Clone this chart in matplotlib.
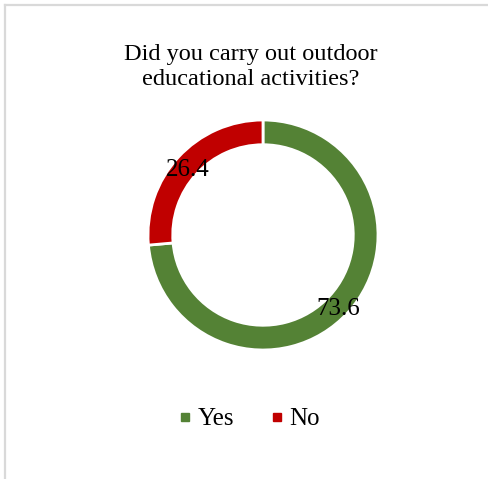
import matplotlib
matplotlib.use("Agg")
import matplotlib.pyplot as plt
from matplotlib.lines import Line2D
import matplotlib.transforms as mtransforms
import numpy as np

categories = ["Yes", "No"]
values = [73.6, 26.4]
colors = ["#548235", "#C00000"]
title = "Did you carry out outdoor\neducational activities?"

W, H = 488, 479
plt.rcParams['font.family'] = ['Liberation Serif', 'DejaVu Serif']
fig = plt.figure(figsize=(W / 100, H / 100), dpi=100)
fig.patch.set_facecolor("white")

# border (left and top visible)
bc = "#d9d9d9"
fig.add_artist(Line2D([4.5 / W, 4.5 / W], [0, 1 - 5 / H], color=bc, lw=1.6, transform=fig.transFigure))
fig.add_artist(Line2D([4.5 / W, 1], [1 - 5 / H, 1 - 5 / H], color=bc, lw=1.6, transform=fig.transFigure))

cx, cy, R = 263, 235, 115
ax = fig.add_axes([(cx - R) / W, (H - cy - R) / H, 2 * R / W, 2 * R / H])
ring = 0.215
wedges, _ = ax.pie(values, colors=colors, startangle=90, counterclock=False, radius=1,
                   wedgeprops=dict(width=ring, edgecolor="white", linewidth=2))
mid_r = 1 - ring / 2
shift = mtransforms.offset_copy(ax.transData, fig=fig, x=0, y=-4.5, units="dots")
for w, v in zip(wedges, values):
    ang = np.deg2rad((w.theta1 + w.theta2) / 2)
    ax.text(mid_r * np.cos(ang), mid_r * np.sin(ang), f"{v}", ha="center", va="center",
            fontsize=18, color="black", transform=shift)
ax.set_xlim(-1, 1)
ax.set_ylim(-1, 1)
ax.axis("off")

fig.text(0.5 + 7 / W, 1 - 67 / H, title, ha="center", va="center", fontsize=17.5, linespacing=1.2)

handles = [Line2D([], [], marker="s", linestyle="none", markersize=6, color=c) for c in colors]
fig.legend(handles, categories, loc="center", bbox_to_anchor=(248.5 / W, 1 - 419 / H), ncol=2,
           frameon=False, fontsize=18, handlelength=0.6, handletextpad=0.22, columnspacing=1.4,
           borderpad=0, borderaxespad=0)

fig.savefig("out.png", dpi=100, facecolor="white")
